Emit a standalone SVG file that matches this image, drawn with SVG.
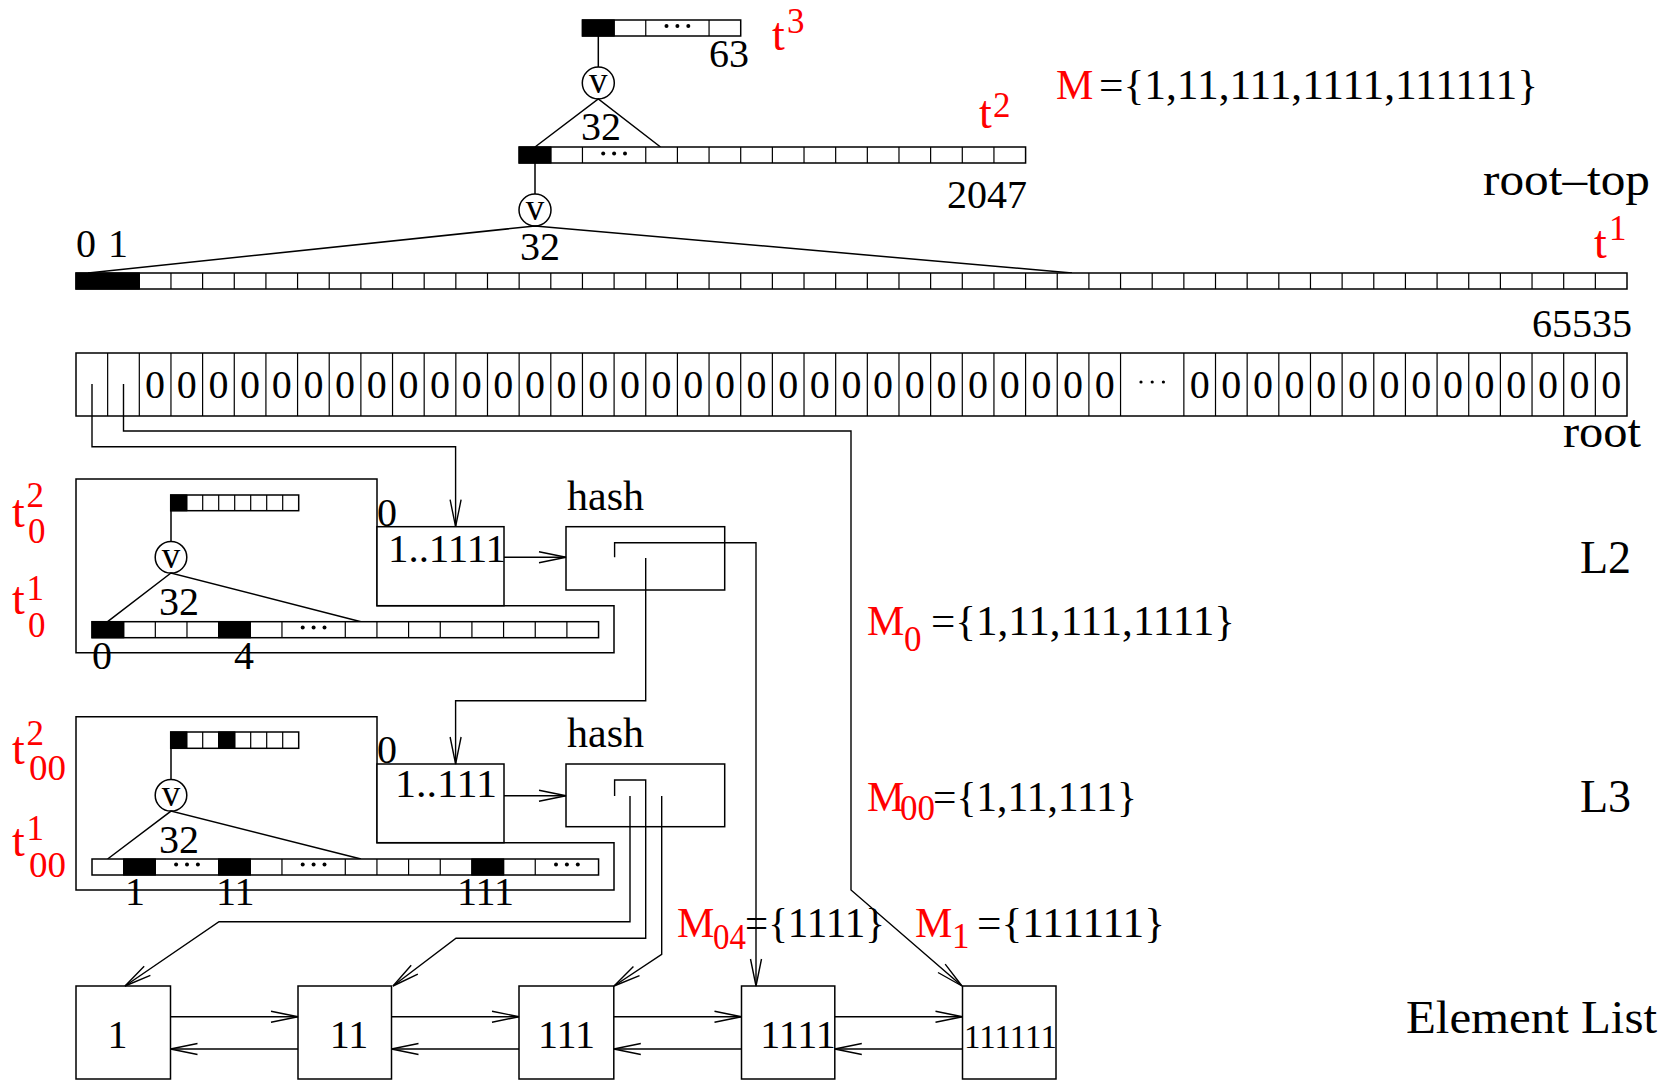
<svg xmlns="http://www.w3.org/2000/svg" width="1665" height="1081" viewBox="0 0 1665 1081">
<style>
text{font-family:"Liberation Serif","Times New Roman",serif;fill:#000}
.n{font-size:40px}
.c{text-anchor:middle}
.r{fill:#ff0000}
.big{font-size:46px}
.f42{font-size:42px}
.tt{font-size:46px}
.sup{font-size:35px}
.v{font-size:37px;text-anchor:middle}
.box{fill:#fff;stroke:#000;stroke-width:1.5}
.ln{fill:none;stroke:#000;stroke-width:1.5}
.grid{fill:none;stroke:#000;stroke-width:1.2}
.blk{fill:#000;stroke:#000;stroke-width:1.2}
.arr{fill:none;stroke:#000;stroke-width:1.4;marker-end:url(#ah)}
.dot{fill:#000}
</style>
<defs>
<marker id="ah" markerUnits="userSpaceOnUse" markerWidth="30" markerHeight="14" viewBox="0 0 30 14" refX="28" refY="7" orient="auto">
<path d="M1,1.5 L28,7 L1,12.5" fill="none" stroke="#000" stroke-width="1.4"/>
</marker>
</defs>
<rect width="1665" height="1081" fill="#fff"/>

<!-- root-top structure -->
<g id="t3">
<rect class="box" x="582.45" y="20" width="158.26" height="16"/>
<rect class="blk" x="582.45" y="20" width="31.65" height="16"/>
<path class="grid" d="M614.1,20V36M645.76,20V36M709.06,20V36"/>
<circle class="dot" cx="666.5" cy="26" r="2"/><circle class="dot" cx="677.4" cy="26" r="2"/><circle class="dot" cx="688.3" cy="26" r="2"/>
<text class="n" x="709" y="67">63</text>
<text class="r tt" x="772" y="50">t</text><text class="r sup" x="787" y="33">3</text>
</g>
<g id="or1">
<line class="ln" x1="598.3" y1="36" x2="598.3" y2="67"/>
<circle class="ln" cx="598.3" cy="83" r="16"/>
<text class="v" x="598.3" y="93">v</text>
<path class="ln" d="M535,147 L598.3,99 L660.5,147"/>
<text class="n c" x="601" y="140">32</text>
</g>
<g id="t2">
<rect class="box" x="519.14" y="147" width="506.45" height="16"/>
<rect class="blk" x="519.14" y="147" width="31.66" height="16"/>
<path class="grid" d="M550.8,147V163M582.45,147V163M645.76,147V163M677.41,147V163M709.06,147V163M740.71,147V163M772.37,147V163M804.02,147V163M835.67,147V163M867.33,147V163M898.98,147V163M930.63,147V163M962.29,147V163M993.94,147V163"/>
<circle class="dot" cx="603.2" cy="153.5" r="2"/><circle class="dot" cx="614.1" cy="153.5" r="2"/><circle class="dot" cx="625" cy="153.5" r="2"/>
<text class="n" x="947" y="208">2047</text>
<text class="r tt" x="979" y="128">t</text><text class="r sup" x="993" y="117">2</text>
</g>
<g id="or2">
<line class="ln" x1="535" y1="163" x2="535" y2="194"/>
<circle class="ln" cx="535" cy="210" r="16"/>
<text class="v" x="535" y="220">v</text>
<path class="ln" d="M88,273 L535,226 L1072,273"/>
<text class="n c" x="540" y="260">32</text>
</g>
<g id="t1">
<rect class="box" x="76" y="273" width="1551" height="16"/>
<rect class="blk" x="76" y="273" width="63.31" height="16"/>
<path class="grid" d="M107.65,273V289M139.31,273V289M170.96,273V289M202.61,273V289M234.27,273V289M265.92,273V289M297.57,273V289M329.22,273V289M360.88,273V289M392.53,273V289M424.18,273V289M455.84,273V289M487.49,273V289M519.14,273V289M550.8,273V289M582.45,273V289M614.1,273V289M645.76,273V289M677.41,273V289M709.06,273V289M740.71,273V289M772.37,273V289M804.02,273V289M835.67,273V289M867.33,273V289M898.98,273V289M930.63,273V289M962.29,273V289M993.94,273V289M1025.59,273V289M1057.24,273V289M1088.9,273V289M1120.55,273V289M1152.2,273V289M1183.86,273V289M1215.51,273V289M1247.16,273V289M1278.82,273V289M1310.47,273V289M1342.12,273V289M1373.78,273V289M1405.43,273V289M1437.08,273V289M1468.73,273V289M1500.39,273V289M1532.04,273V289M1563.69,273V289M1595.35,273V289"/>
<text class="n" x="76" y="257">0</text><text class="n" x="108" y="257">1</text>
<text class="n" x="1532" y="337">65535</text>
<text class="r tt" x="1594" y="258">t</text><text class="r sup" x="1609" y="240">1</text>
</g>
<text class="big" x="1483" y="195" textLength="167" lengthAdjust="spacingAndGlyphs">root–top</text>
<g id="Mset">
<text class="r f42" x="1056" y="99">M</text>
<text class="f42" x="1099" y="99" textLength="439" lengthAdjust="spacingAndGlyphs">={1,11,111,1111,111111}</text>
</g>

<!-- root array -->
<g id="root">
<rect class="box" x="76" y="353" width="1551" height="63"/>
<path class="grid" d="M107.65,353V416M139.31,353V416M170.96,353V416M202.61,353V416M234.27,353V416M265.92,353V416M297.57,353V416M329.22,353V416M360.88,353V416M392.53,353V416M424.18,353V416M455.84,353V416M487.49,353V416M519.14,353V416M550.8,353V416M582.45,353V416M614.1,353V416M645.76,353V416M677.41,353V416M709.06,353V416M740.71,353V416M772.37,353V416M804.02,353V416M835.67,353V416M867.33,353V416M898.98,353V416M930.63,353V416M962.29,353V416M993.94,353V416M1025.59,353V416M1057.24,353V416M1088.9,353V416M1120.55,353V416M1183.86,353V416M1215.51,353V416M1247.16,353V416M1278.82,353V416M1310.47,353V416M1342.12,353V416M1373.78,353V416M1405.43,353V416M1437.08,353V416M1468.73,353V416M1500.39,353V416M1532.04,353V416M1563.69,353V416M1595.35,353V416"/>
<text class="n c" y="398" x="155.1 186.8 218.4 250.1 281.7 313.4 345.1 376.7 408.4 440 471.7 503.3 535 566.6 598.3 629.9 661.6 693.2 724.9 756.5 788.2 819.8 851.5 883.1 914.8 946.5 978.1 1009.8 1041.4 1073.1 1104.7 1199.7 1231.3 1263 1294.6 1326.3 1357.9 1389.6 1421.3 1452.9 1484.6 1516.2 1547.9 1579.5 1611.2">000000000000000000000000000000000000000000000</text>
<circle class="dot" cx="1141" cy="382" r="1.6"/><circle class="dot" cx="1152.2" cy="382" r="1.6"/><circle class="dot" cx="1163.4" cy="382" r="1.6"/>
<text class="big" x="1563" y="447" textLength="78" lengthAdjust="spacingAndGlyphs">root</text>
</g>

<!-- L2 -->
<g id="L2">
<path class="ln" d="M76,479 H377 V605.7 H614 V652.7 H76 Z"/>
<rect class="box" x="377" y="526.7" width="127" height="79"/>
<text class="n" x="377" y="526">0</text>
<text class="n" x="388" y="562" textLength="118" lengthAdjust="spacingAndGlyphs">1..1111</text>
<rect class="box" x="170.7" y="495" width="128" height="15.7"/>
<rect class="blk" x="170.7" y="495" width="16" height="15.7"/>
<path class="grid" d="M186.7,495V510.7M202.7,495V510.7M218.7,495V510.7M234.7,495V510.7M250.7,495V510.7M266.7,495V510.7M282.7,495V510.7"/>
<line class="ln" x1="171" y1="510.7" x2="171" y2="541.5"/>
<circle class="ln" cx="171" cy="557.3" r="15.8"/>
<text class="v" x="171" y="567.5">v</text>
<path class="ln" d="M107.6,621.7 L171,573 L361,621.7"/>
<text class="n" x="159" y="615">32</text>
<rect class="box" x="92" y="621.7" width="506.56" height="16"/>
<rect class="blk" x="92" y="621.7" width="31.66" height="16"/>
<rect class="blk" x="218.64" y="621.7" width="31.66" height="16"/>
<path class="grid" d="M123.66,621.7V637.7M155.32,621.7V637.7M186.98,621.7V637.7M218.64,621.7V637.7M250.3,621.7V637.7M281.96,621.7V637.7M345.28,621.7V637.7M376.94,621.7V637.7M408.6,621.7V637.7M440.26,621.7V637.7M471.92,621.7V637.7M503.58,621.7V637.7M535.24,621.7V637.7M566.9,621.7V637.7"/>
<circle class="dot" cx="302.7" cy="627.5" r="2"/><circle class="dot" cx="313.6" cy="627.5" r="2"/><circle class="dot" cx="324.5" cy="627.5" r="2"/>
<text class="n" x="92" y="669">0</text><text class="n" x="234" y="669">4</text>
<text class="r tt" x="12" y="527">t</text><text class="r sup" x="26.5" y="507">2</text><text class="r sup" x="28" y="543">0</text>
<text class="r tt" x="12" y="614">t</text><text class="r sup" x="26.5" y="600">1</text><text class="r sup" x="28" y="637">0</text>
</g>
<g id="hashL2">
<text class="f42" x="567" y="510">hash</text>
<rect class="box" x="566" y="526.7" width="158.7" height="63.3"/>
</g>

<!-- L3 -->
<g id="L3">
<path class="ln" d="M76,716.7 H377 V842.7 H614 V890 H76 Z"/>
<rect class="box" x="377" y="764" width="127" height="78.7"/>
<text class="n" x="377" y="763">0</text>
<text class="n" x="395" y="797" textLength="102" lengthAdjust="spacingAndGlyphs">1..111</text>
<rect class="box" x="170.7" y="732" width="128" height="16.3"/>
<rect class="blk" x="170.7" y="732" width="16" height="16.3"/>
<rect class="blk" x="218.7" y="732" width="16" height="16.3"/>
<path class="grid" d="M186.7,732V748.3M202.7,732V748.3M218.7,732V748.3M234.7,732V748.3M250.7,732V748.3M266.7,732V748.3M282.7,732V748.3"/>
<line class="ln" x1="171" y1="748.3" x2="171" y2="779.5"/>
<circle class="ln" cx="171" cy="795.3" r="15.8"/>
<text class="v" x="171" y="806">v</text>
<path class="ln" d="M107.6,859 L171,811.1 L361,859"/>
<text class="n" x="159" y="853">32</text>
<rect class="box" x="92" y="859" width="506.56" height="16"/>
<rect class="blk" x="123.66" y="859" width="31.66" height="16"/>
<rect class="blk" x="218.64" y="859" width="31.66" height="16"/>
<rect class="blk" x="471.92" y="859" width="31.66" height="16"/>
<path class="grid" d="M123.66,859V875M155.32,859V875M218.64,859V875M250.3,859V875M281.96,859V875M345.28,859V875M376.94,859V875M408.6,859V875M440.26,859V875M471.92,859V875M503.58,859V875M535.24,859V875"/>
<circle class="dot" cx="176.1" cy="864.5" r="2"/><circle class="dot" cx="187" cy="864.5" r="2"/><circle class="dot" cx="197.9" cy="864.5" r="2"/>
<circle class="dot" cx="302.7" cy="864.5" r="2"/><circle class="dot" cx="313.6" cy="864.5" r="2"/><circle class="dot" cx="324.5" cy="864.5" r="2"/>
<circle class="dot" cx="556" cy="864.5" r="2"/><circle class="dot" cx="566.9" cy="864.5" r="2"/><circle class="dot" cx="577.8" cy="864.5" r="2"/>
<text class="n" x="125" y="905">1</text><text class="n" x="216" y="905">11</text><text class="n" x="457" y="905">111</text>
<text class="r tt" x="12" y="764">t</text><text class="r sup" x="26.5" y="745">2</text><text class="r sup" x="29" y="780" textLength="37" lengthAdjust="spacingAndGlyphs">00</text>
<text class="r tt" x="12" y="856">t</text><text class="r sup" x="26.5" y="840">1</text><text class="r sup" x="29" y="877" textLength="37" lengthAdjust="spacingAndGlyphs">00</text>
</g>
<g id="hashL3">
<text class="f42" x="567" y="747">hash</text>
<rect class="box" x="566" y="764" width="158.7" height="62.7"/>
</g>

<!-- element list -->
<g id="e1"><rect class="box" x="76" y="986" width="94.5" height="93"/><text class="n c" x="117.5" y="1048">1</text></g>
<g id="e11"><rect class="box" x="298" y="986" width="93.5" height="93"/><text class="n c" x="349" y="1048">11</text></g>
<g id="e111"><rect class="box" x="519" y="986" width="94.8" height="93"/><text class="n c" x="566.4" y="1048">111</text></g>
<g id="e1111"><rect class="box" x="741.5" y="986" width="93.3" height="93"/><text class="n c" x="798" y="1048">1111</text></g>
<g id="e111111"><rect class="box" x="962.5" y="986" width="93.5" height="93"/><text x="964" y="1048" style="font-size:33px">111111</text></g>

<!-- labels -->
<g id="labels">
<text class="big" x="1580" y="573">L2</text>
<text class="big" x="1580" y="812">L3</text>
<text class="big" x="1406" y="1033" textLength="251" lengthAdjust="spacingAndGlyphs">Element List</text>
<text class="r f42" x="867" y="635">M</text><text class="r sup" x="904" y="651">0</text>
<text class="f42" x="931" y="635" textLength="304" lengthAdjust="spacingAndGlyphs">={1,11,111,1111}</text>
<text class="r f42" x="867" y="811">M</text><text class="r sup" x="900" y="820" textLength="35" lengthAdjust="spacingAndGlyphs">00</text>
<text class="f42" x="933" y="811" textLength="204" lengthAdjust="spacingAndGlyphs">={1,11,111}</text>
<text class="r f42" x="677" y="937">M</text><text class="r sup" x="713" y="949" textLength="33" lengthAdjust="spacingAndGlyphs">04</text>
<text class="f42" x="745" y="937" textLength="140" lengthAdjust="spacingAndGlyphs">={1111}</text>
<text class="r f42" x="915" y="937">M</text><text class="r sup" x="952" y="948">1</text>
<text class="f42" x="977" y="937" textLength="188" lengthAdjust="spacingAndGlyphs">={111111}</text>
</g>

<!-- connectors -->
<g id="connectors">
<path class="arr" d="M92,384 V446.7 H455.6 V526.7"/>
<path class="arr" d="M123.5,384 V431 H851 V890 L962,986"/>
<path class="arr" d="M504,557.3 H566"/>
<path class="arr" d="M504,795.7 H566"/>
<path class="arr" d="M614.6,557.3 V542.7 H756 V986"/>
<path class="arr" d="M645.7,558 V700.7 H455.6 V764"/>
<path class="arr" d="M630,796 V921.7 H219 L125,986"/>
<path class="arr" d="M614.6,796 V780 H645.7 V938.3 H456 L393,986"/>
<path class="arr" d="M661.7,796 V954.3 L614,986"/>
<path class="arr" d="M170.5,1016.7 H298"/>
<path class="arr" d="M391.5,1016.7 H519"/>
<path class="arr" d="M613.8,1016.7 H741.5"/>
<path class="arr" d="M834.8,1016.7 H962.5"/>
<path class="arr" d="M298,1049 H170.5"/>
<path class="arr" d="M519,1049 H391.5"/>
<path class="arr" d="M741.5,1049 H613.8"/>
<path class="arr" d="M962.5,1049 H834.8"/>
</g>
</svg>
